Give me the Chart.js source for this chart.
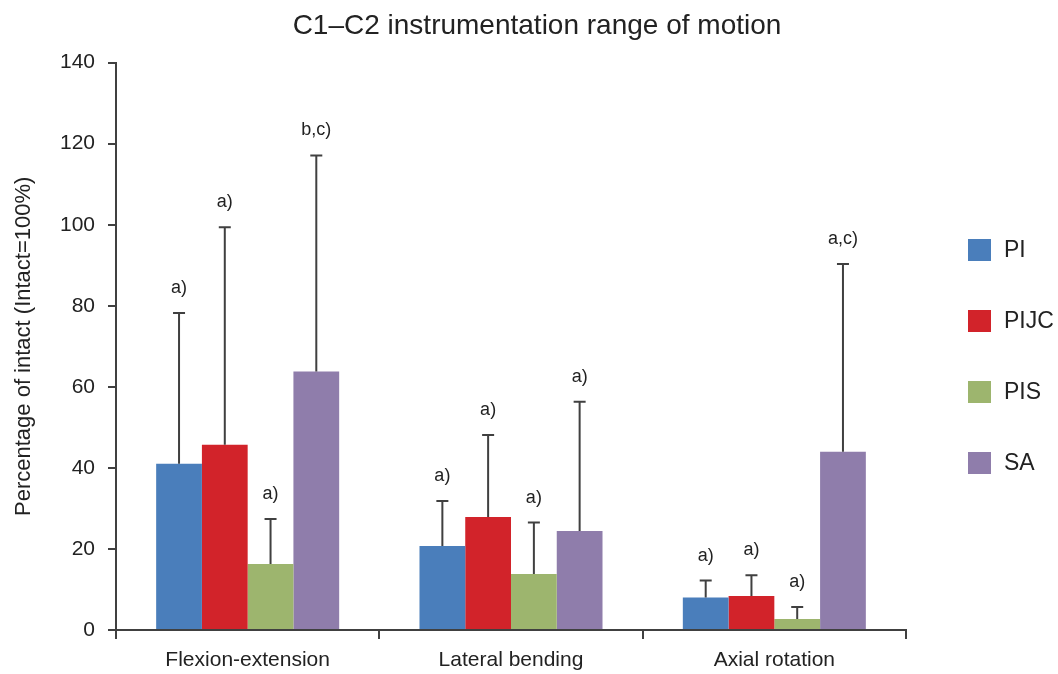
<!DOCTYPE html>
<html>
<head>
<meta charset="utf-8">
<script src="https://cdn.jsdelivr.net/npm/chart.js@4"></script>
<style>
  html,body{margin:0;padding:0;background:#fff;}
  #wrap{width:1058px;height:674px;position:relative;}
</style>
</head>
<body>
<div id="wrap"><canvas id="rom"></canvas></div>
<script>
// Data
const categories=["Flexion-extension","Lateral bending","Axial rotation"];
const groupNames=["PI","PIJC","PIS","SA"];
const groupColors=["#4a7ebb","#d2232a","#9db56e","#8f7dab"];

const piMean=[41.0,20.7,8.0],   piSd=[37.2,11.1,4.2];
const pijcMean=[45.7,27.9,8.4], pijcSd=[53.7,20.2,5.1];
const pisMean=[16.3,13.8,2.7],  pisSd=[11.1,12.7,3.0];
const saMean=[63.8,24.4,44.0],  saSd=[53.3,31.9,46.3];

const piMarks=["a)","a)","a)"];
const pijcMarks=["a)","a)","a)"];
const pisMarks=["a)","a)","a)"];
const saMarks=["b,c)","a)","a,c)"];

const yTicks=[0,20,40,60,80,100,120,140];

const means=[piMean,pijcMean,pisMean,saMean];
const sds=[piSd,pijcSd,pisSd,saSd];
const marks=[piMarks,pijcMarks,pisMarks,saMarks];

const FONT='"Liberation Sans", Arial, sans-serif';
const INK='#222';
const AXIS='#404040';

// error bars + significance marks above each bar
const errorBars={
  id:'errorBars',
  afterDatasetsDraw(chart){
    const ctx=chart.ctx, y=chart.scales.y;
    chart.data.datasets.forEach((ds,i)=>{
      chart.getDatasetMeta(i).data.forEach((bar,j)=>{
        const top=y.getPixelForValue(ds.data[j]+ds.sd[j]);
        ctx.save();
        ctx.strokeStyle=AXIS; ctx.lineWidth=2;
        ctx.beginPath();
        ctx.moveTo(bar.x,bar.y); ctx.lineTo(bar.x,top);
        ctx.moveTo(bar.x-6,top); ctx.lineTo(bar.x+6,top);
        ctx.stroke();
        ctx.fillStyle=INK; ctx.font='18px '+FONT;
        ctx.textAlign='center'; ctx.textBaseline='middle';
        ctx.fillText(ds.marks[j],bar.x,top-25);
        ctx.restore();
      });
    });
  }
};

// legend on the right, big gaps between entries
const sideLegend={
  id:'sideLegend',
  afterDraw(chart){
    const ctx=chart.ctx, x0=chart.chartArea.right+62;
    chart.data.datasets.forEach((ds,i)=>{
      const yTop=239+71*i;
      ctx.save();
      ctx.fillStyle=ds.backgroundColor;
      ctx.fillRect(x0,yTop,23,22);
      ctx.fillStyle=INK; ctx.font='23px '+FONT;
      ctx.textAlign='left'; ctx.textBaseline='middle';
      ctx.fillText(ds.label,x0+36,yTop+12);
      ctx.restore();
    });
  }
};

const datasets=groupNames.map((name,i)=>({
  label:name,
  data:means[i],
  sd:sds[i],
  marks:marks[i],
  backgroundColor:groupColors[i],
  borderWidth:0,
  barPercentage:1.0,
  categoryPercentage:0.695
}));

new Chart(document.getElementById('rom').getContext('2d'),{
  type:'bar',
  data:{labels:categories,datasets:datasets},
  options:{
    responsive:true,maintainAspectRatio:false,animation:false,
    layout:{padding:{left:16,right:0,top:0,bottom:0}},
    plugins:{
      legend:{display:false},
      tooltip:{enabled:false},
      title:{display:true,text:'C1–C2 instrumentation range of motion',color:INK,
        font:{family:FONT,size:28,weight:'normal'},padding:{top:9,bottom:20}}
    },
    scales:{
      x:{
        afterFit(s){s.height=44;},
        grid:{drawOnChartArea:false,drawTicks:true,tickLength:9,color:AXIS,lineWidth:2,offset:true},
        border:{display:true,color:AXIS,width:2},
        ticks:{color:INK,font:{family:FONT,size:21},padding:9}
      },
      y:{
        min:0,max:140,
        afterFit(s){s.width=100;},
        afterBuildTicks(s){s.ticks=yTicks.map(v=>({value:v}));},
        grid:{drawOnChartArea:false,drawTicks:true,tickLength:8,color:AXIS,lineWidth:2},
        border:{display:true,color:AXIS,width:2},
        ticks:{color:INK,font:{family:FONT,size:21},padding:13},
        title:{display:true,text:'Percentage of intact (Intact=100%)',color:INK,
          font:{family:FONT,size:22},padding:{top:-5,bottom:0}}
      },
      side:{
        type:'linear',position:'right',display:true,
        afterFit(s){s.width=152;},
        grid:{display:false},border:{display:false},ticks:{display:false}
      }
    }
  },
  plugins:[errorBars,sideLegend]
});
</script>
</body>
</html>
